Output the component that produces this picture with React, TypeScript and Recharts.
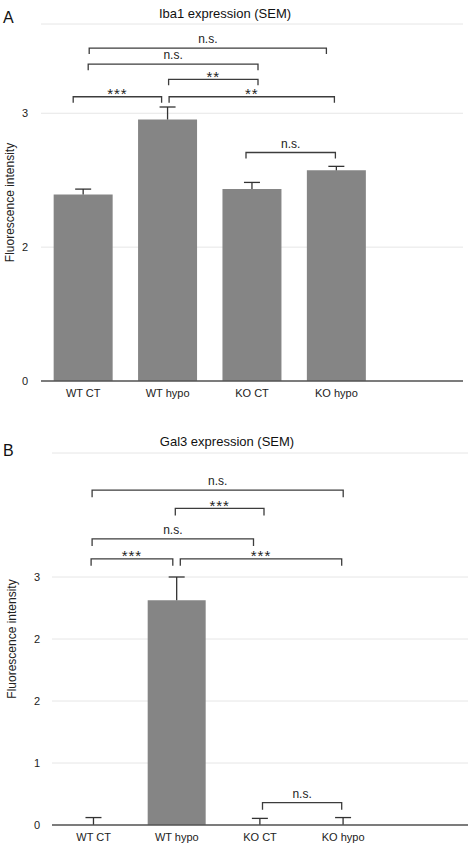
import React from 'react';
import { BarChart, Bar, XAxis, YAxis, CartesianGrid, ReferenceLine } from 'recharts';

const categories = ['WT CT', 'WT hypo', 'KO CT', 'KO hypo', ''];

const ibaMeans: (number | null)[] = [2.09, 2.93, 2.15, 2.36, null];
const ibaSem: (number | null)[] = [0.06, 0.14, 0.075, 0.045, null];
const ibaTicks = [0, 1.5, 3];

const galMeans: (number | null)[] = [0.0, 2.72, 0.0, 0.0, null];
const galSem: (number | null)[] = [0.09, 0.28, 0.08, 0.09, null];
const galTicks = [0, 0.75, 1.5, 2.25, 3];

const ibaBrackets = [
  { from: 'WT CT', to: 'KO hypo', y: 3.73, label: 'n.s.' },
  { from: 'WT CT', to: 'KO CT', y: 3.55, label: 'n.s.' },
  { from: 'WT hypo', to: 'KO CT', y: 3.38, label: '**' },
  { from: 'WT CT', to: 'WT hypo', y: 3.185, label: '***' },
  { from: 'WT hypo', to: 'KO hypo', y: 3.185, label: '**' },
  { from: 'KO CT', to: 'KO hypo', y: 2.56, label: 'n.s.' },
];
const ibaBracketOffsets = [[6, -10], [5, 6], [1, 6], [-10, -6], [1.5, -2], [-6, -1]];

const galBrackets = [
  { from: 'WT CT', to: 'KO hypo', y: 4.05, label: 'n.s.' },
  { from: 'WT hypo', to: 'KO CT', y: 3.83, label: '***' },
  { from: 'WT CT', to: 'KO CT', y: 3.46, label: 'n.s.' },
  { from: 'WT CT', to: 'WT hypo', y: 3.22, label: '***' },
  { from: 'WT hypo', to: 'KO hypo', y: 3.22, label: '***' },
  { from: 'KO CT', to: 'KO hypo', y: 0.27, label: 'n.s.' },
];
const galBracketOffsets = [[-1.5, 0], [-1.5, 4], [-1.5, -6.5], [-2.5, -4], [3.5, -1.5], [2.5, -1.5]];

const FONT = '"Liberation Sans", Arial, Helvetica, sans-serif';

function buildData(means: (number | null)[], sem: (number | null)[]) {
  return categories.map((c, i) => ({
    name: c,
    mean: means[i],
    sem: sem[i],
  }));
}

function Whisker(p: any) {
  if (p.height == null || p.width == null || p.payload == null || p.payload.sem == null) return <g />;
  const cx = p.x + p.width / 2;
  const top = p.y;
  const bottom = p.y + p.height;
  return (
    <g>
      <line x1={cx} y1={bottom} x2={cx} y2={top} stroke="#333" strokeWidth={1.3} />
      <line x1={cx - 8} y1={top} x2={cx + 8} y2={top} stroke="#333" strokeWidth={1.3} />
    </g>
  );
}

function bracketShape(label: string, dx1: number, dx2: number, leg: number) {
  return (p: any) => {
    const x1 = p.x1 + dx1;
    const x2 = p.x2 + dx2;
    const y = p.y1;
    const isStar = label.startsWith('*');
    return (
      <g>
        <path
          d={`M${x1},${y + leg}V${y}H${x2}V${y + leg}`}
          fill="none"
          stroke="#3c3c3c"
          strokeWidth={1.3}
        />
        <text
          x={(x1 + x2) / 2}
          y={isStar ? y + 2.5 : y - 5}
          textAnchor="middle"
          fontSize={isStar ? 15 : 12}
          letterSpacing={isStar ? 1 : 0}
          fill="#222"
          fontFamily={FONT}
        >
          {label}
        </text>
      </g>
    );
  };
}

function Panel(props: {
  means: (number | null)[];
  sem: (number | null)[];
  ticks: number[];
  domainMax: number;
  brackets: { from: string; to: string; y: number; label: string }[];
  offsets: number[][];
  height: number;
  margin: { top: number; right: number; bottom: number; left: number };
  yAxisWidth: number;
  tickMargin: number;
  xAxisHeight: number;
  labelOffset: number;
  leg: number;
}) {
  const data = buildData(props.means, props.sem);
  return (
    <BarChart
      width={472}
      height={props.height}
      data={data}
      margin={props.margin}
      barCategoryGap="15%"
      style={{ fontFamily: FONT }}
    >
      <CartesianGrid vertical={false} stroke="#e6e6e6" strokeWidth={1} />
      <XAxis
        dataKey="name"
        height={props.xAxisHeight}
        tickLine={false}
        axisLine={{ stroke: '#555', strokeWidth: 1.6 }}
        tick={{ fontSize: 11, fill: '#222', fontFamily: FONT }}
        interval={0}
      />
      <YAxis
        width={props.yAxisWidth}
        domain={[0, props.domainMax]}
        ticks={props.ticks}
        tickFormatter={(v: number) => String(Math.round(v))}
        axisLine={false}
        tickLine={false}
        tickMargin={props.tickMargin}
        tick={{ fontSize: 11, fill: '#222', fontFamily: FONT }}
        allowDataOverflow
        label={{
          value: 'Fluorescence intensity',
          angle: -90,
          position: 'insideLeft',
          offset: props.labelOffset,
          style: { textAnchor: 'middle', fontSize: 12, fill: '#222', fontFamily: FONT },
        }}
      />
      <Bar dataKey="mean" stackId="s" fill="#858585" isAnimationActive={false} />
      <Bar dataKey="sem" stackId="s" fill="none" shape={Whisker} isAnimationActive={false} />
      {props.brackets.map((b, i) => (
        <ReferenceLine
          key={i}
          segment={[
            { x: b.from, y: b.y },
            { x: b.to, y: b.y },
          ]}
          ifOverflow="visible"
          shape={bracketShape(b.label, props.offsets[i][0], props.offsets[i][1], props.leg)}
        />
      ))}
    </BarChart>
  );
}

export default function App() {
  return (
    <div
      style={{
        position: 'absolute',
        left: 0,
        top: 0,
        width: 472,
        height: 844,
        background: '#fff',
        fontFamily: FONT,
        overflow: 'hidden',
      }}
    >
      <div style={{ position: 'absolute', left: 0, top: 0 }}>
        <Panel
          means={ibaMeans}
          sem={ibaSem}
          ticks={ibaTicks}
          domainMax={4}
          brackets={ibaBrackets}
          offsets={ibaBracketOffsets}
          height={420}
          margin={{ top: 24, right: 9, bottom: 9, left: 0 }}
          yAxisWidth={41}
          tickMargin={7}
          xAxisHeight={30}
          labelOffset={10}
          leg={6}
        />
      </div>
      <div style={{ position: 'absolute', left: 0, top: 420 }}>
        <Panel
          means={galMeans}
          sem={galSem}
          ticks={galTicks}
          domainMax={4.5}
          brackets={galBrackets}
          offsets={galBracketOffsets}
          height={424}
          margin={{ top: 33, right: 4, bottom: 0, left: 0 }}
          yAxisWidth={52}
          tickMargin={6}
          xAxisHeight={19}
          labelOffset={12}
          leg={7}
        />
      </div>
      <svg
        width={472}
        height={844}
        style={{ position: 'absolute', left: 0, top: 0, pointerEvents: 'none' }}
      >
        <text x={3} y={23} fontSize={16} fill="#111" fontFamily={FONT}>A</text>
        <text x={225} y={18} fontSize={13} textAnchor="middle" fill="#111" fontFamily={FONT}>
          Iba1 expression (SEM)
        </text>
        <text x={3} y={456} fontSize={16} fill="#111" fontFamily={FONT}>B</text>
        <text x={227} y={446} fontSize={13} textAnchor="middle" fill="#111" fontFamily={FONT}>
          Gal3 expression (SEM)
        </text>
      </svg>
    </div>
  );
}
